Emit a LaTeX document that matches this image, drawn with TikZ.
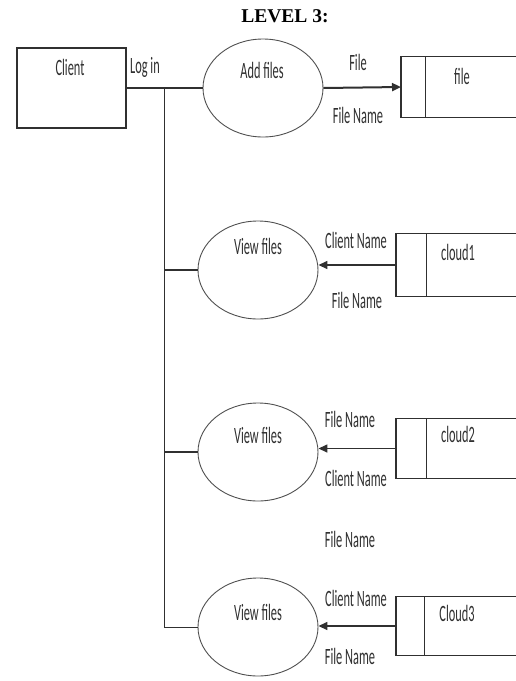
\documentclass[tikz,border=0pt]{standalone}
\usepackage{fontspec}
\usepackage{graphicx}
\setmainfont{Carlito}
\newfontfamily\titlefont{Liberation Serif}
\usetikzlibrary{shapes.geometric,arrows.meta}
\newcommand\tx[1]{\scalebox{0.95}[1.8]{#1}}
\definecolor{ink}{HTML}{303030}
\tikzset{
  lbl/.style={font=\fontsize{13}{13}\selectfont, text=ink, inner sep=0pt},
  proc/.style={draw=ink!85, line width=0.9pt, ellipse, minimum width=120pt, minimum height=98pt, inner sep=0pt},
  storebox/.style={draw=none, minimum width=120pt, minimum height=60pt, inner sep=0pt, anchor=west},
  storeline/.style={draw=ink, line width=1.2pt},
  flow/.style={draw=ink, line width=1.5pt, -{Triangle[length=9pt,width=8pt]}},
  conn/.style={draw=ink, line width=1.3pt},
}
\begin{document}
\begin{tikzpicture}[x=1pt,y=1pt]
\useasboundingbox (0,0) rectangle (516,-681);
% title
\node[font=\titlefont\bfseries\fontsize{19.5}{19.5}\selectfont, inner sep=0pt] (title) at (285,-16) {LEVEL 3:};
% client
\node[draw=ink, line width=1.3pt, minimum width=109pt, minimum height=80pt, inner sep=0pt] (client) at (71.5,-88) {};
\node[lbl] (clienttxt) at (70,-67) {\tx{Client}};
\node[lbl] (login) at (145,-67) {\tx{Log in}};
% processes
\node[proc] (add) at (263,-88) {};
\node[lbl] (addtxt) at (262,-70) {\tx{Add files}};
\node[proc] (v1) at (258,-270) {};
\node[lbl] (v1txt) at (258,-246) {\tx{View files}};
\node[proc] (v2) at (258,-452) {};
\node[lbl] (v2txt) at (258,-435) {\tx{View files}};
\node[proc] (v3) at (258,-627) {};
\node[lbl] (v3txt) at (258,-612) {\tx{View files}};
% stores
\node[storebox] (s0) at (401,-87) {};
\node[storebox, minimum height=62pt] (s1) at (396,-265) {};
\node[storebox, minimum height=59pt] (s2) at (396,-448.5) {};
\node[storebox, minimum height=58pt] (s3) at (396,-626) {};
\foreach \s/\ix in {s0/24, s1/30, s2/30, s3/28}{
  \draw[storeline] (\s.north east) -- (\s.north west) -- (\s.south west) -- (\s.south east);
  \draw[storeline, line width=0.9pt] ([xshift=\ix pt]\s.north west) -- ([xshift=\ix pt]\s.south west);
}
\node[lbl] (s0txt) at (462,-76) {\tx{file}};
\node[lbl] (s1txt) at (458,-252) {\tx{cloud1}};
\node[lbl] (s2txt) at (458,-434) {\tx{cloud2}};
\node[lbl] (s3txt) at (457,-613) {\tx{Cloud3}};
% connectors
\draw[conn] (client.east) -- (add.west);
\coordinate (j) at (164,-88);
\draw[conn, line width=1pt] (j) |- (v3.west);
\draw[conn] (j |- v1.west) -- (v1.west);
\draw[conn] (j |- v2.west) -- (v2.west);
\draw[flow, line width=2pt] (add.east) -- (s0.west);
\draw[flow] (s1.west) -- (s1.west -| v1.east);
\draw[flow] (s2.west) -- (s2.west -| v2.east);
\draw[flow] (s3.west) -- (s3.west -| v3.east);
% flow labels
\node[lbl] (f0a) at (358,-62) {\tx{File}};
\node[lbl] (f0b) at (358,-115) {\tx{File Name}};
\node[lbl] (f1a) at (356,-240) {\tx{Client Name}};
\node[lbl] (f1b) at (357,-300) {\tx{File Name}};
\node[lbl] (f2a) at (350,-419) {\tx{File Name}};
\node[lbl] (f2b) at (356,-478) {\tx{Client Name}};
\node[lbl] (free) at (350,-539) {\tx{File Name}};
\node[lbl] (f3a) at (356,-598) {\tx{Client Name}};
\node[lbl] (f3b) at (350,-656) {\tx{File Name}};
\end{tikzpicture}
\end{document}
